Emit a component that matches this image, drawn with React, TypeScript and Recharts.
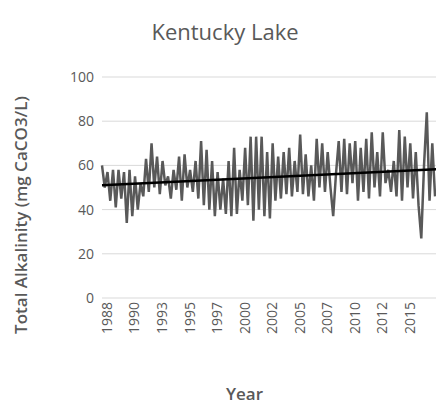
import { LineChart, Line, XAxis, YAxis, CartesianGrid, ReferenceLine } from "recharts";

// quarterly alkalinity readings (positions in years since 1988)
const alkalinity: number[] = [
  60, 50, 57, 44, 58, 41, 58, 45, 57, 34, 58, 37, 55, 40, 52, 46,
  63, 48, 70, 50, 64, 47, 62, 51, 55, 45, 58, 49, 64, 44, 65, 50,
  58, 48, 62, 45, 71, 42, 67, 40, 62, 37, 57, 40, 54, 38, 62, 37,
  68, 38, 58, 44, 68, 42, 73, 35, 73, 40, 73, 37, 66, 36, 70, 44,
  64, 45, 66, 47, 68, 46, 62, 48, 74, 47, 65, 46, 60, 44, 72, 50,
  70, 48, 66, 50, 37, 56, 71, 48, 72, 47, 70, 52, 71, 44, 68, 48,
  72, 45, 75, 50, 66, 46, 75, 52, 58, 48, 62, 46, 76, 44, 73, 50,
  70, 45, 66, 42, 27, 60, 84, 44, 70, 46,
];
const yearLabels = ["1988", "1990", "1993", "1995", "1997", "2000", "2002", "2005", "2007", "2010", "2012", "2015"];
const yTicks = [0, 20, 40, 60, 80, 100];
const trendStart = 51;
const trendEnd = 58.3;

const data = alkalinity.map((v, i) => ({ t: i * 0.25, v }));
const xTicks = yearLabels.map((_, i) => i * 2.5);
const xMax = 30.7;
const grey = "#595959";
const font = "'Open Sans', 'Liberation Sans', sans-serif";

export default function App() {
  return (
    <div style={{ position: "absolute", left: 0, top: 0, width: 436, height: 408, overflow: "hidden", background: "#fff", fontFamily: font }}>
      <div style={{ position: "absolute", top: 16, left: 0, width: 450, textAlign: "center", fontSize: 22, color: grey }}>
        Kentucky Lake
      </div>
      <div
        style={{
          position: "absolute", left: 20, top: 215, transform: "translate(-50%, -50%) rotate(-90deg)",
          whiteSpace: "nowrap", fontSize: 17, fontWeight: 600, color: grey,
        }}
      >
        Total Alkalinity (mg CaCO3/L)
      </div>
      <div style={{ position: "absolute", left: 226, top: 382, fontSize: 17, fontWeight: 600, color: grey }}>Year</div>
      <LineChart width={440} height={408} data={data} margin={{ top: 77, right: 0, left: 0, bottom: 80 }}>
        <CartesianGrid vertical={false} stroke="#d9d9d9" />
        <XAxis
          dataKey="t"
          type="number"
          domain={[0, xMax]}
          ticks={xTicks}
          tickFormatter={(v: number) => yearLabels[Math.round(v / 2.5)] ?? ""}
          axisLine={false}
          tickLine={false}
          angle={-90}
          textAnchor="end"
          dy={-4}
          interval={0}
          tick={{ fontSize: 14, fill: grey, fontFamily: font }}
        />
        <YAxis
          domain={[0, 100]}
          ticks={yTicks}
          width={102}
          axisLine={false}
          tickLine={false}
          tick={{ fontSize: 14, fill: grey, fontFamily: font }}
        />
        <Line type="linear" dataKey="v" stroke={grey} strokeWidth={2.5} dot={false} isAnimationActive={false} />
        <ReferenceLine
          segment={[{ x: 0, y: trendStart }, { x: xMax, y: trendEnd }]}
          stroke="#000"
          strokeWidth={2.5}
        />
      </LineChart>
    </div>
  );
}
